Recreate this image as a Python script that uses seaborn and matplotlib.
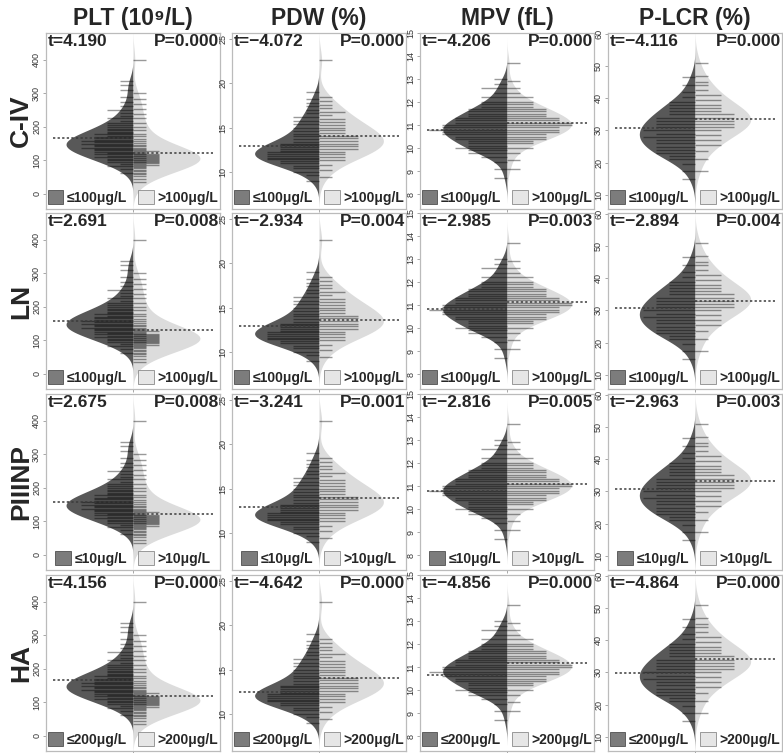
import numpy as np
import pandas as pd
import matplotlib
matplotlib.use("Agg")
import matplotlib.pyplot as plt
from matplotlib.patches import Patch
import seaborn as sns

columns = ["PLT (10⁹/L)", "PDW (%)", "MPV (fL)", "P-LCR (%)"]
rows = ["C-IV", "LN", "PIIINP", "HA"]
cutoffs = ["100", "100", "10", "200"]

# bean lines: observed values and how many patients share each value
plt_low_vals = [62, 75, 82, 88, 95, 100, 105, 110, 114, 118, 122, 126, 130, 134, 138, 142, 146, 150, 154,
                158, 162, 166, 170, 174, 178, 182, 186, 190, 195, 200, 206, 212, 218, 225, 232, 240, 250,
                262, 275, 290, 310, 325, 338]
plt_low_counts = [1, 1, 2, 1, 2, 2, 2, 3, 2, 3, 2, 3, 3, 3, 4, 3, 3, 4, 3, 4, 3, 3, 3, 2, 3, 2, 2, 2, 2, 2,
                  2, 2, 1, 2, 1, 1, 2, 1, 1, 1, 1, 1, 1]
plt_high_vals = [35, 45, 52, 58, 63, 68, 72, 76, 80, 83, 86, 89, 92, 94, 96, 98, 100, 102, 104, 106, 108,
                 110, 112, 114, 116, 118, 120, 122, 125, 128, 131, 134, 138, 142, 147, 152, 158, 165, 172,
                 180, 190, 200, 212, 225, 238, 252, 268, 282, 300, 400]
plt_high_counts = [1, 1, 1, 1, 1, 1, 1, 1, 1, 1, 2, 1, 2, 1, 2, 2, 2, 1, 2, 2, 1, 2, 2, 1, 2, 1, 2, 1, 1, 2,
                   1, 1, 1, 1, 1, 1, 1, 1, 1, 1, 1, 1, 1, 1, 1, 1, 1, 1, 1, 1]

pdw_low_vals = [9.0, 9.6, 10.0, 10.4, 10.7, 11.0, 11.2, 11.4, 11.6, 11.8, 12.0, 12.2, 12.4, 12.6, 12.8, 13.0,
                13.2, 13.4, 13.7, 14.0, 14.3, 14.6, 15.0, 15.4, 15.8, 16.2, 16.6, 17.0, 17.4, 17.8, 18.2, 19.0]
pdw_low_counts = [1, 1, 2, 2, 2, 3, 3, 4, 4, 4, 4, 4, 3, 3, 3, 3, 3, 2, 2, 2, 2, 2, 2, 2, 2, 2, 1, 1, 1, 1,
                  1, 1]
pdw_high_vals = [9.4, 10.2, 10.8, 11.3, 11.7, 12.0, 12.3, 12.6, 12.9, 13.2, 13.5, 13.8, 14.1, 14.4, 14.7,
                 15.0, 15.3, 15.6, 16.0, 16.4, 16.8, 17.2, 17.6, 18.0, 18.5, 22.6]
pdw_high_counts = [1, 1, 1, 2, 2, 2, 2, 3, 3, 3, 3, 3, 3, 2, 2, 2, 2, 2, 2, 1, 2, 1, 1, 1, 1, 1]

mpv_low_vals = [8.7, 9.1, 9.4, 9.6, 9.8, 9.9, 10.0, 10.1, 10.2, 10.3, 10.4, 10.5, 10.6, 10.7, 10.8, 10.9,
                11.0, 11.1, 11.2, 11.3, 11.4, 11.5, 11.6, 11.7, 11.8, 11.9, 12.0, 12.2, 12.4, 12.6, 12.8, 13.0]
mpv_low_counts = [1, 1, 1, 2, 3, 3, 4, 3, 3, 3, 4, 4, 5, 5, 6, 5, 5, 4, 4, 4, 3, 3, 3, 3, 2, 2, 2, 2, 1, 2,
                  1, 1]
mpv_high_vals = [9.1, 9.5, 9.8, 10.0, 10.2, 10.3, 10.4, 10.5, 10.6, 10.7, 10.8, 10.9, 11.0, 11.1, 11.2,
                 11.3, 11.4, 11.5, 11.6, 11.7, 11.8, 11.9, 12.0, 12.2, 12.4, 12.6, 12.9, 13.7]
mpv_high_counts = [1, 1, 1, 2, 2, 2, 3, 3, 3, 4, 4, 4, 5, 5, 4, 4, 3, 3, 3, 3, 2, 2, 2, 2, 1, 1, 1, 1]

plcr_low_vals = [15.0, 17.5, 19.5, 21.0, 22.0, 23.0, 24.0, 25.0, 26.0, 27.0, 28.0, 29.0, 30.0, 31.0, 32.0,
                 33.0, 34.0, 35.0, 36.0, 37.0, 38.0, 39.0, 40.5, 42.0, 44.0, 46.5]
plcr_low_counts = [1, 1, 1, 2, 2, 3, 3, 3, 3, 3, 4, 3, 4, 3, 3, 3, 3, 2, 2, 2, 2, 2, 1, 1, 1, 1]
plcr_high_vals = [17.5, 21.0, 23.5, 25.5, 27.0, 28.5, 30.0, 31.0, 32.0, 33.0, 34.0, 35.0, 36.0, 37.0, 38.0,
                  39.5, 41.0, 42.5, 44.0, 45.0, 47.0, 51.0]
plcr_high_counts = [1, 1, 1, 2, 2, 2, 2, 3, 3, 3, 3, 3, 2, 2, 2, 2, 2, 1, 1, 1, 1, 1]

# group means (dotted lines), rows x columns
mean_low = [[168, 12.95, 10.80, 30.7],
            [158, 12.97, 10.83, 30.7],
            [158, 12.96, 10.79, 30.8],
            [168, 12.50, 10.67, 29.8]]
mean_high = [[122, 14.10, 11.10, 33.7],
             [131, 13.60, 11.11, 32.8],
             [123, 13.96, 11.07, 33.2],
             [118, 14.10, 11.17, 34.3]]

t_text = [["4.190", "−4.072", "−4.206", "−4.116"],
          ["2.691", "−2.934", "−2.985", "−2.894"],
          ["2.675", "−3.241", "−2.816", "−2.963"],
          ["4.156", "−4.642", "−4.856", "−4.864"]]
p_text = [["0.000", "0.000", "0.000", "0.000"],
          ["0.008", "0.004", "0.003", "0.004"],
          ["0.008", "0.001", "0.005", "0.003"],
          ["0.000", "0.000", "0.000", "0.000"]]

low_data = [(plt_low_vals, plt_low_counts), (pdw_low_vals, pdw_low_counts),
            (mpv_low_vals, mpv_low_counts), (plcr_low_vals, plcr_low_counts)]
high_data = [(plt_high_vals, plt_high_counts), (pdw_high_vals, pdw_high_counts),
             (mpv_high_vals, mpv_high_counts), (plcr_high_vals, plcr_high_counts)]

ylims = [(-45, 480), (5.8, 25.7), (7.35, 15.0), (5.6, 60.3)]
yticks = [[0, 100, 200, 300, 400], [10, 15, 20, 25], list(range(8, 16)), [10, 20, 30, 40, 50, 60]]
bean_width = [0.77, 0.74, 0.74, 0.64]

sns.set_theme(style="white")
plt.rcParams["font.family"] = ["Liberation Sans", "DejaVu Sans"]

W, H = 783, 753
lefts = [46, 232, 420, 608]
tops = [33, 213, 394, 575]
pw, ph = 174, 176
dark, light = "#585858", "#dcdcdc"
ll = 0.075

fig = plt.figure(figsize=(W / 100, H / 100), dpi=100)

for r in range(4):
    for c in range(4):
        ax = fig.add_axes([lefts[c] / W, 1 - (tops[r] + ph) / H, pw / W, ph / H])
        lv, lc = low_data[c]
        hv, hc = high_data[c]
        low = np.repeat(lv, lc)
        high = np.repeat(hv, hc)
        df = pd.DataFrame({"value": np.concatenate([low, high]),
                           "group": ["low"] * len(low) + ["high"] * len(high)})
        sns.violinplot(data=df, y="value", hue="group", hue_order=["low", "high"], split=True,
                       inner=None, palette={"low": dark, "high": light}, saturation=1,
                       linewidth=0, bw_adjust=1.1, cut=3, width=bean_width[c], gap=0,
                       legend=False, ax=ax)
        # bean lines, longer where values are shared
        ax.hlines(lv, -ll * np.array(lc), 0, colors="black", alpha=0.4, lw=1.0, zorder=3)
        ax.hlines(hv, 0, ll * np.array(hc), colors="black", alpha=0.4, lw=1.0, zorder=3)
        ax.hlines(mean_low[r][c], -0.46, 0, colors="#3a3a3a", linestyles=(0, (1.5, 1.5)), lw=1.1, zorder=4)
        ax.hlines(mean_high[r][c], 0, 0.46, colors="#3a3a3a", linestyles=(0, (1.5, 1.5)), lw=1.1, zorder=4)

        ax.set_xlim(-0.5, 0.5)
        ax.set_ylim(*ylims[c])
        ax.set_xlabel("")
        ax.set_ylabel("")
        ax.set_xticks([0])
        ax.set_xticklabels([""])
        ax.set_yticks(yticks[c])
        ax.tick_params(axis="both", length=2.5, width=0.6, color="#999999", pad=1, labelsize=6.5,
                       labelcolor="#333333", bottom=True, left=True)
        plt.setp(ax.get_yticklabels(), rotation=90, va="center", ha="right")
        for s in ax.spines.values():
            s.set_color("#bbbbbb")
            s.set_linewidth(0.9)

        ax.text(0.01, 0.995, "t=" + t_text[r][c], transform=ax.transAxes, ha="left", va="top",
                fontsize=12.5, fontweight="bold", zorder=6)
        ax.text(0.995, 0.995, "P=" + p_text[r][c], transform=ax.transAxes, ha="right", va="top",
                fontsize=12.5, fontweight="bold", zorder=6)

        handles = [Patch(facecolor="#7c7c7c", edgecolor="#505050", lw=0.6),
                   Patch(facecolor="#e6e6e6", edgecolor="#8a8a8a", lw=0.6)]
        labels = ["≤" + cutoffs[r] + "μg/L", ">" + cutoffs[r] + "μg/L"]
        ax.legend(handles, labels, loc="lower center", bbox_to_anchor=(0.5, -0.03), ncol=2,
                  frameon=False, handlelength=1.1, handleheight=1.1, handletextpad=0.3,
                  columnspacing=0.8, borderpad=0.2, prop={"weight": "bold", "size": 10})

for c, title in enumerate(columns):
    fig.text((lefts[c] + pw / 2) / W, 1 - 19 / H, title, ha="center", va="center",
             fontsize=16.5, fontweight="bold")
for r, name in enumerate(rows):
    fig.text(21 / W, 1 - (tops[r] + ph / 2) / H, name, rotation=90, ha="center", va="center",
             fontsize=19, fontweight="bold")

fig.savefig("out.png", dpi=100)
